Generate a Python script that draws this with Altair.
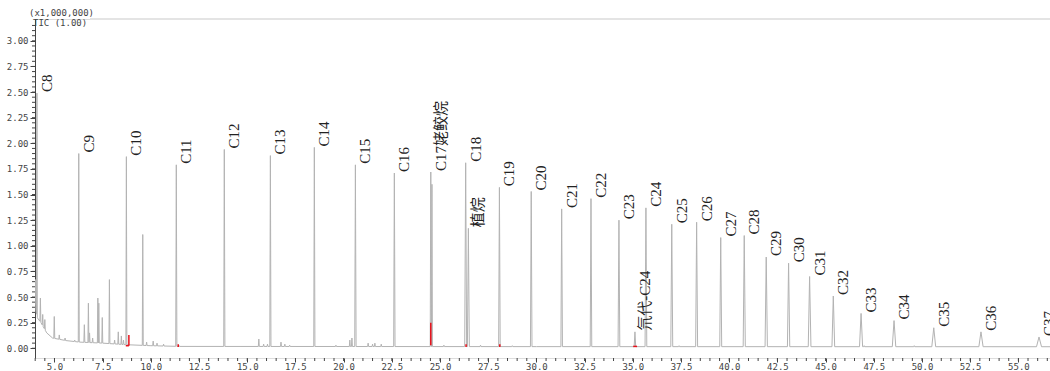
import altair as alt
import numpy as np
import pandas as pd

# Labelled peaks of the TIC trace: name, retention time (min), intensity (x1,000,000), half width (min)
peak_names = ["C8", "C9", "C10", "C11", "C12", "C13", "C14", "C15", "C16", "C17姥鲛烷",
              "C18", "植烷", "C19", "C20", "C21", "C22", "C23", "氘代-C24", "C24", "C25",
              "C26", "C27", "C28", "C29", "C30", "C31", "C32", "C33", "C34", "C35", "C36", "C37"]
peak_times = [4.09, 6.26, 8.73, 11.32, 13.81, 16.20, 18.48, 20.61, 22.63, 24.52,
              26.33, 26.47, 28.08, 29.73, 31.31, 32.83, 34.28, 35.11, 35.68, 37.02,
              38.31, 39.56, 40.78, 41.92, 43.08, 44.17, 45.40, 46.84, 48.55, 50.61, 53.06, 56.07]
peak_heights = [2.49, 1.90, 1.87, 1.79, 1.94, 1.88, 1.96, 1.79, 1.71, 1.72,
                1.81, 1.17, 1.57, 1.53, 1.36, 1.46, 1.25, 0.16, 1.37, 1.21,
                1.23, 1.08, 1.10, 0.89, 0.83, 0.70, 0.51, 0.34, 0.27, 0.20, 0.16, 0.11]
peak_halfwidths = [0.02, 0.025, 0.025, 0.03, 0.03, 0.03, 0.03, 0.035, 0.035, 0.03,
                   0.05, 0.05, 0.04, 0.04, 0.04, 0.04, 0.045, 0.04, 0.045, 0.05,
                   0.05, 0.05, 0.055, 0.06, 0.06, 0.07, 0.07, 0.08, 0.09, 0.10, 0.11, 0.13]

# Unlabelled minor peaks
minor_times = [4.01, 4.27, 4.39, 4.50, 4.99, 5.25, 5.55, 6.05, 6.55, 6.76, 6.82, 6.98,
               7.25, 7.30, 7.48, 7.85, 8.12, 8.31, 8.47, 8.58, 9.58, 9.78, 10.12, 10.32,
               10.66, 11.45, 15.60, 15.85, 16.05, 16.75, 16.95, 17.20, 19.60, 20.32, 20.43,
               21.27, 21.50, 21.62, 21.95, 24.58, 25.20, 27.10, 28.75, 37.4, 47.0, 49.6]
minor_heights = [0.67, 0.49, 0.33, 0.28, 0.31, 0.13, 0.10, 0.08, 0.23, 0.44, 0.15, 0.10,
                 0.49, 0.44, 0.30, 0.67, 0.08, 0.16, 0.12, 0.08, 1.11, 0.06, 0.07, 0.05,
                 0.04, 0.03, 0.09, 0.04, 0.04, 0.06, 0.04, 0.03, 0.03, 0.08, 0.10,
                 0.05, 0.04, 0.05, 0.04, 1.60, 0.03, 0.03, 0.025, 0.025, 0.025, 0.025]
minor_halfwidth = 0.025

# Drifting baseline of the trace
base_times = [3.99, 4.10, 4.30, 4.60, 4.90, 5.60, 6.30, 7.50, 8.70, 10.0, 11.5, 30.0, 56.64]
base_values = [0.42, 0.30, 0.25, 0.15, 0.10, 0.075, 0.06, 0.05, 0.035, 0.025, 0.018, 0.016, 0.015]

# Integration markers (red): start time, end time, start value, end value
mark_t0 = [8.70, 8.86, 24.52, 35.02, 11.42, 26.35, 28.10]
mark_t1 = [8.86, 8.86, 24.52, 35.22, 11.42, 26.35, 28.10]
mark_v0 = [0.025, 0.025, 0.03, 0.018, 0.012, 0.012, 0.012]
mark_v1 = [0.025, 0.13, 0.25, 0.018, 0.04, 0.04, 0.04]

x_major = [5.0 + 2.5 * i for i in range(21)]
x_minor = [4.0 + 0.5 * i for i in range(106)]
y_major = [0.25 * i for i in range(13)]
y_minor = [0.05 * i for i in range(64)]

X_DOMAIN = [3.99, 56.64]
Y_DOMAIN = [-0.095, 3.213]
W, H = 1015, 339

# Build the trace polyline: each peak is a narrow spike rising from the baseline
peaks = list(zip(peak_times, peak_heights, peak_halfwidths)) + \
        [(t, h, minor_halfwidth) for t, h in zip(minor_times, minor_heights)]
pts = []
for t, h, w in peaks:
    pts.append((t - w, float(np.interp(t - w, base_times, base_values))))
    pts.append((t, h))
    pts.append((t + w, float(np.interp(t + w, base_times, base_values))))
for t, v in zip(base_times, base_values):
    if not any(abs(t - pt) <= w for pt, _, w in peaks):
        pts.append((t, v))
pts.sort(key=lambda p: p[0])
trace = pd.DataFrame(pts, columns=["t", "v"])
trace["order"] = range(len(trace))

labels = pd.DataFrame({"name": peak_names, "t": peak_times, "v": peak_heights})
markers = pd.DataFrame({"t": mark_t0, "t2": mark_t1, "v": mark_v0, "v2": mark_v1})

mono = "DejaVu Sans Mono"
xscale = alt.Scale(domain=X_DOMAIN, nice=False, zero=False)
yscale = alt.Scale(domain=Y_DOMAIN, nice=False, zero=False)
xaxis = alt.Axis(values=x_major, format=".1f", title=None, grid=False, domain=False,
                 tickSize=4, tickColor="#444", labelFont=mono, labelFontSize=9,
                 labelColor="#444", labelPadding=4, labelBaseline="middle",
                 labelFlush=False)
yaxis = alt.Axis(values=y_major, format=".2f", title=None, grid=False, domain=True,
                 domainColor="#444", tickSize=5, tickColor="#444", labelFont=mono,
                 labelFontSize=9, labelColor="#444", labelPadding=2, labelFlush=False)

X = lambda f="t": alt.X(f"{f}:Q", scale=xscale, axis=xaxis)
Y = lambda f="v": alt.Y(f"{f}:Q", scale=yscale, axis=yaxis)

line = alt.Chart(trace).mark_line(color="#b3b3b3", strokeWidth=1, clip=True).encode(
    x=X(), y=Y(), order="order:Q")

red = alt.Chart(markers).mark_rule(color="#e8101a", strokeWidth=1.5).encode(
    x=X(), x2="t2:Q", y=Y(), y2="v2:Q")

peak_text = alt.Chart(labels).mark_text(
    angle=270, align="left", baseline="middle", dx=1, dy=10, fontSize=15,
    font="Liberation Serif, Noto Sans CJK SC", color="#222", clip=True
).encode(x=X(), y=Y(), text="name:N")

xminor = alt.Chart(pd.DataFrame({"t": x_minor})).mark_rule(color="#444").encode(
    x=X(), y=alt.value(H), y2=alt.value(H + 3))
yminor = alt.Chart(pd.DataFrame({"v": y_minor})).mark_rule(color="#444").encode(
    y=Y(), x=alt.value(-3), x2=alt.value(0))

top_rule = alt.Chart(pd.DataFrame({"a": [0]})).mark_rule(color="#e4e4e4", strokeWidth=2).encode(
    x=alt.value(55), x2=alt.value(W), y=alt.value(0))
unit_text = alt.Chart(pd.DataFrame({"a": [0]})).mark_text(
    align="left", baseline="middle", font=mono, fontSize=9, color="#444").encode(
    x=alt.value(-6), y=alt.value(-6), text=alt.value("(x1,000,000)"))
tic_text = alt.Chart(pd.DataFrame({"a": [0]})).mark_text(
    align="left", baseline="middle", font=mono, fontSize=9, color="#444").encode(
    x=alt.value(-2), y=alt.value(4), text=alt.value("TIC (1.00)"))

chart = alt.layer(top_rule, line, red, xminor, yminor, peak_text, unit_text, tic_text).properties(
    width=W, height=H,
    padding={"left": 35, "top": 19, "right": 0, "bottom": 13},
    autosize=alt.AutoSizeParams(type="none"),
).configure_view(stroke=None).configure(background="white")

chart.save("out.html", embed_options={"renderer": "svg", "actions": False})
